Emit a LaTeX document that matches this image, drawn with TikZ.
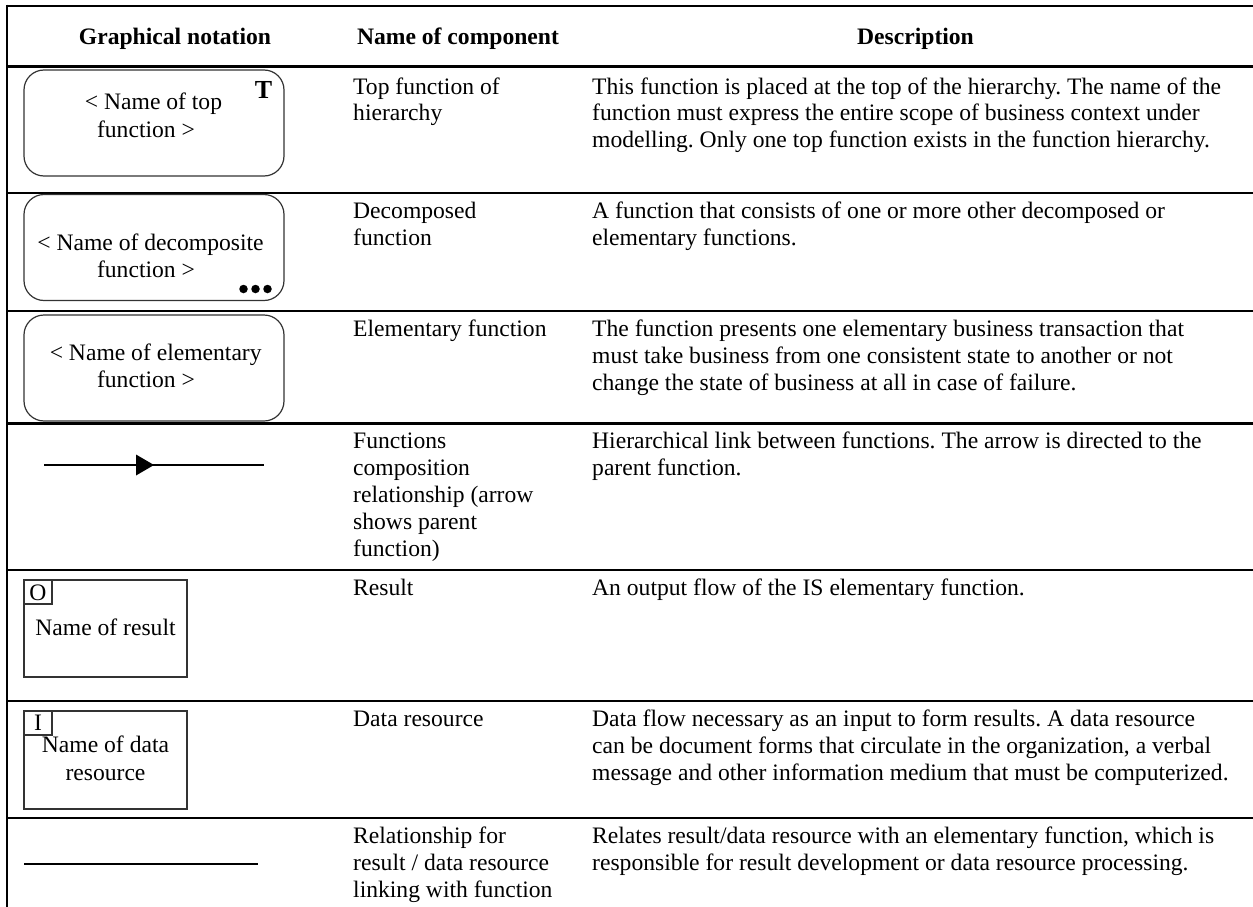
\documentclass[tikz,border=0pt]{standalone}
\usepackage{fontspec}
\setmainfont{Liberation Serif}
\newcommand\bodyfont{\fontsize{23.6}{27}\selectfont\frenchspacing}
\newcommand\mylines[2]{\parbox[t]{#1}{\raggedright #2}}
\begin{document}
\begin{tikzpicture}[x=1pt,y=-1pt,
  rule/.style={line width=2.2pt, draw=black},
  outline/.style={line width=1.2pt, draw=black!80},
  fnbox/.style={outline, rounded corners=20pt, minimum width=260pt, minimum height=106pt, inner sep=0pt},
  flowbox/.style={outline, minimum width=163pt, inner sep=0pt},
  tagbox/.style={outline, minimum width=28pt, minimum height=24pt, inner sep=0pt},
  txt/.style={anchor=base west, inner sep=0pt, font=\bodyfont},
  ctxt/.style={anchor=base, inner sep=0pt, font=\bodyfont},
  head/.style={anchor=base, inner sep=0pt, font=\bodyfont\bfseries},
  dot/.style={circle, fill=black, minimum size=8.5pt, inner sep=0pt}]
\useasboundingbox (0,0) rectangle (1253,907);
% table rules
\coordinate (tl) at (7,5.7);
\draw[rule] (tl) -- (1253,5.7);
\draw[rule] (7,66.5) -- (1253,66.5);
\draw[rule] (7,193.3) -- (1253,193.3);
\draw[rule] (7,311.2) -- (1253,311.2);
\draw[rule] (7,423.5) -- (1253,423.5);
\draw[rule] (7,570.3) -- (1253,570.3);
\draw[rule] (7,700.8) -- (1253,700.8);
\draw[rule] (7,817.8) -- (1253,817.8);
\draw[rule] (7,4.6) -- (7,907);
% header
\node[head] (h1) at (175,45) {Graphical notation};
\node[head] (h2) at (458,45) {Name of component};
\node[head] (h3) at (915.5,45) {Description};
% row 1
\node[fnbox] (f1) at (154,123) {};
\node[ctxt] (f1a) at (153.5,110) {< Name of top};
\node[ctxt] (f1b) at (146,137.5) {function >};
\node[anchor=base, inner sep=0pt, font=\fontsize{26}{28}\selectfont\bfseries] (f1t) at (263.5,98) {T};
\node[txt] (n1) at (353,94) {\mylines{240pt}{Top function of\\hierarchy}};
\node[txt] (d1) at (592,94) {\mylines{700pt}{This function is placed at the top of the hierarchy. The name of the\\function must express the entire scope of business context under\\modelling. Only one top function exists in the function hierarchy.}};
% row 2
\node[fnbox] (f2) at (154,247.5) {};
\node[ctxt] (f2a) at (150.5,250) {< Name of decomposite};
\node[ctxt] (f2b) at (146,277) {function >};
\node[dot] (dt1) at (243.5,289) {};
\node[dot] (dt2) at (255.5,289) {};
\node[dot] (dt3) at (267.5,289) {};
\node[txt] (n2) at (353,218.3) {\mylines{240pt}{Decomposed\\function}};
\node[txt] (d2) at (592,218.3) {\mylines{700pt}{A function that consists of one or more other decomposed or\\elementary functions.}};
% row 3
\node[fnbox] (f3) at (154,368) {};
\node[ctxt] (f3a) at (155.7,360) {< Name of elementary};
\node[ctxt] (f3b) at (146,387.5) {function >};
\node[txt] (n3) at (353,336.5) {\mylines{240pt}{Elementary function}};
\node[txt] (d3) at (592,336.5) {\mylines{700pt}{The function presents one elementary business transaction that\\must take business from one consistent state to another or not\\change the state of business at all in case of failure.}};
% row 4
\coordinate (a1) at (44,465);
\coordinate (a2) at (264,465);
\coordinate (am) at (154,465);
\draw[line width=1.5pt] (a1) -- (a2);
\fill (am) -- ++(-18,-10.5) -- ++(0,21) -- cycle;
\node[txt] (n4) at (353,448.5) {\mylines{240pt}{Functions\\composition\\relationship (arrow\\shows parent\\function)}};
\node[txt] (d4) at (592,448.5) {\mylines{700pt}{Hierarchical link between functions. The arrow is directed to the\\parent function.}};
% row 5
\node[flowbox, minimum height=97pt] (r5) at (105.5,628.5) {};
\node[tagbox] (r5t) at (38,592) {};
\node[ctxt] (r5o) at (38,600) {O};
\node[ctxt] (r5n) at (105.5,635) {Name of result};
\node[txt] (n5) at (353,595) {\mylines{240pt}{Result}};
\node[txt] (d5) at (592,595) {\mylines{700pt}{An output flow of the IS elementary function.}};
% row 6
\node[flowbox, minimum height=98pt] (r6) at (105.5,760) {};
\node[tagbox] (r6t) at (38,723) {};
\node[ctxt] (r6i) at (38,730) {I};
\node[ctxt] (r6n) at (105.5,752.7) {Name of data};
\node[ctxt] (r6r) at (105.5,780) {resource};
\node[txt] (n6) at (353,726.5) {\mylines{240pt}{Data resource}};
\node[txt] (d6) at (592,726.5) {\mylines{700pt}{Data flow necessary as an input to form results. A data resource\\can be document forms that circulate in the organization, a verbal\\message and other information medium that must be computerized.}};
% row 7
\coordinate (l1) at (24,864);
\coordinate (l2) at (258,864);
\draw[line width=2pt] (l1) -- (l2);
\node[txt] (n7) at (353,843) {\mylines{240pt}{Relationship for\\result / data resource\\linking with function}};
\node[txt] (d7) at (592,843) {\mylines{700pt}{Relates result/data resource with an elementary function, which is\\responsible for result development or data resource processing.}};
\end{tikzpicture}
\end{document}
